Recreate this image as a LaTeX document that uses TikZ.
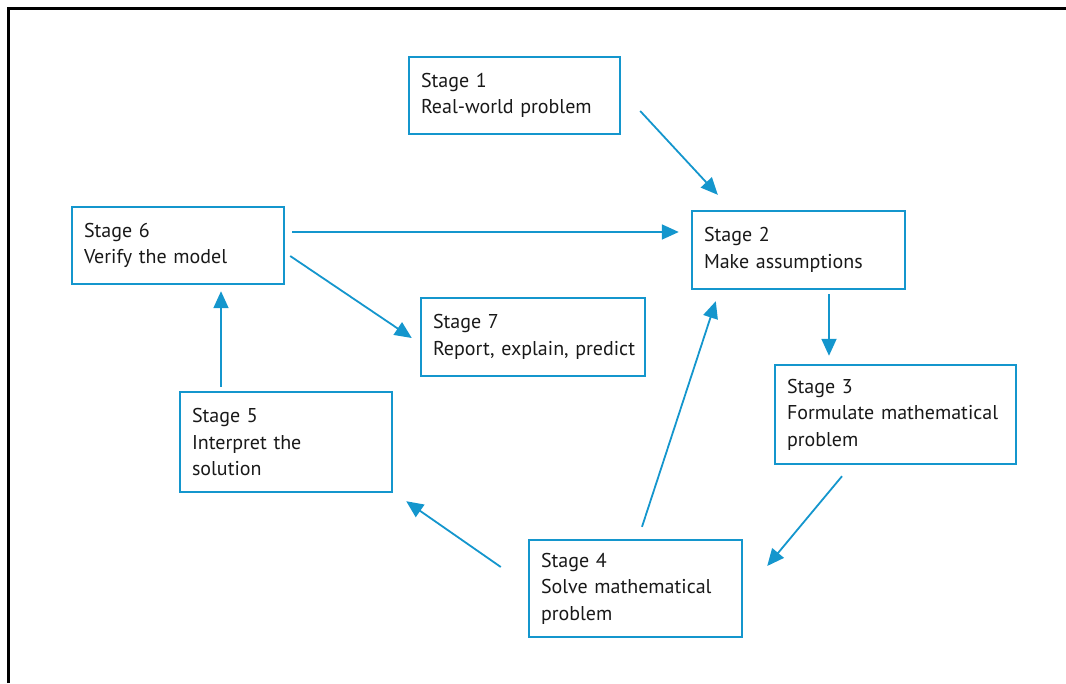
\documentclass[tikz,border=0pt]{standalone}
\usepackage{fontspec}
\setmainfont{PT Sans}
\usetikzlibrary{arrows.meta,calc}
\definecolor{stageblue}{RGB}{20,150,205}
\begin{document}
\begin{tikzpicture}[x=1pt,y=-1pt,
  stagebox/.style={draw=stageblue,line width=2.4pt,rectangle,align=left,
    inner xsep=12pt,inner ysep=0pt,font=\fontsize{20}{26.5}\selectfont,text=black!90},
  flow/.style={draw=stageblue,line width=1.8pt,-{Triangle[length=17pt,width=15pt]}}]
\useasboundingbox (0,0) rectangle (1066,683);
\draw[line width=3pt] (8,683) -- (8,8.5) -- (1066,8.5);
\node[stagebox,minimum width=211pt,minimum height=77pt,text width=187pt] (s1) at (514.5,95.5) {Stage 1\\Real-world problem};
\node[stagebox,minimum width=213pt,minimum height=78pt,text width=189pt] (s2) at (798.5,250) {Stage 2\\Make assumptions};
\node[stagebox,minimum width=241pt,minimum height=99pt,text width=217pt] (s3) at (895.5,414.5) {Stage 3\\Formulate mathematical\\problem};
\node[stagebox,minimum width=213pt,minimum height=97pt,text width=189pt] (s4) at (635.5,588.5) {Stage 4\\Solve mathematical\\problem};
\node[stagebox,minimum width=212pt,minimum height=100pt,text width=188pt] (s5) at (286,442) {Stage 5\\Interpret the\\solution};
\node[stagebox,minimum width=212pt,minimum height=77pt,text width=188pt] (s6) at (178,245.5) {Stage 6\\Verify the model};
\node[stagebox,minimum width=224pt,minimum height=78pt,text width=200pt] (s7) at (533,337) {Stage 7\\\mbox{Report, explain, predict}};
\draw[flow] ($(s1.east)+(19,15.5)$) -- ($(s2.north west)+(27,-15)$);
\draw[flow] ($(s6.east)+(7,-13.5)$) -- ($(s2.west)+(-12,-18)$);
\draw[flow] ($(s6.east)+(5,10.5)$) -- ($(s7.west)+(-8,1)$);
\draw[flow] ($(s2.south)+(30.5,4)$) -- ($(s3.north)+(-66.5,-8)$);
\draw[flow] ($(s3.south)+(-53.5,11)$) -- ($(s4.east)+(24,-22.5)$);
\draw[flow] ($(s4.north)+(6.5,-12)$) -- ($(s2.south west)+(25,11)$);
\draw[flow] ($(s4.west)+(-27,-21.5)$) -- ($(s5.south east)+(13,8)$);
\draw[flow] ($(s5.north)+(-65,-4)$) -- ($(s6.south)+(43,6)$);
\end{tikzpicture}
\end{document}
